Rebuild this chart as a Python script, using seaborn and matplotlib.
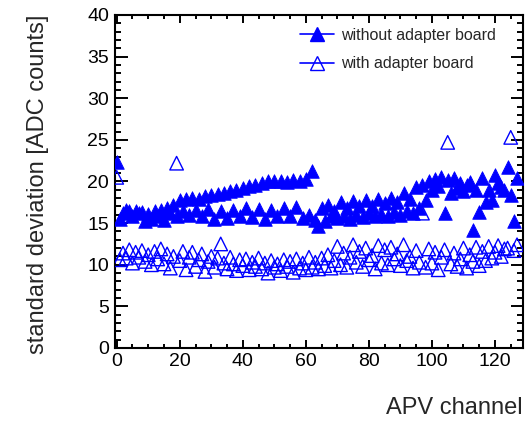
import numpy as np
import pandas as pd
import matplotlib
matplotlib.use("Agg")
import matplotlib.pyplot as plt
from matplotlib.lines import Line2D
from matplotlib.ticker import MultipleLocator
import seaborn as sns

channels = list(range(128))

without_adapter = [
    22.3, 15.5, 16.2, 16.6, 16.4, 15.8, 16.5, 16.2, 16.3, 15.2,
    16.1, 15.5, 16.4, 15.9, 16.6, 15.4, 16.8, 16.2, 17.2, 15.8,
    17.8, 16.5, 17.9, 16.0, 18.0, 16.6, 17.9, 15.9, 18.2, 16.7,
    18.4, 15.5, 18.5, 16.4, 18.6, 15.6, 18.8, 16.6, 19.0, 15.8,
    19.2, 16.8, 19.4, 15.7, 19.6, 16.7, 19.8, 15.5, 20.0, 16.6,
    20.1, 15.9, 20.0, 16.8, 19.9, 15.8, 20.2, 16.9, 20.1, 15.6,
    20.3, 16.0, 21.3, 15.4, 14.6, 16.8, 15.2, 17.2, 15.8, 16.4,
    15.6, 17.5, 15.9, 16.8, 15.5, 17.6, 16.0, 17.0, 15.7, 17.8,
    16.2, 17.1, 15.8, 17.9, 16.1, 17.4, 15.9, 18.0, 16.3, 17.5,
    16.0, 18.6, 16.4, 17.9, 16.2, 19.3, 16.8, 19.6, 17.8, 20.1,
    19.0, 20.3, 19.5, 20.5, 16.2, 20.2, 18.6, 20.4, 19.2, 19.8,
    18.9, 19.6, 19.9, 14.2, 19.0, 16.3, 20.4, 17.5, 19.0, 17.8,
    20.8, 19.8, 19.3, 19.0, 21.8, 18.4, 15.3, 20.4,
]

with_adapter = [
    20.5, 10.6, 11.4, 10.8, 11.8, 10.2, 11.5, 10.9, 11.7, 10.4,
    11.2, 10.0, 11.6, 10.7, 11.9, 10.1, 11.3, 9.6, 11.0, 22.2,
    10.5, 11.6, 9.4, 10.9, 11.5, 9.8, 10.6, 11.3, 9.2, 10.4,
    11.0, 9.7, 10.8, 12.5, 10.2, 9.5, 10.9, 10.1, 9.3, 10.6,
    9.9, 10.7, 9.4, 10.3, 9.8, 10.8, 9.5, 10.2, 9.0, 10.5,
    9.7, 10.1, 9.3, 10.6, 9.8, 10.4, 9.1, 10.7, 9.6, 10.2,
    9.4, 10.9, 9.7, 10.3, 9.5, 10.8, 9.9, 11.2, 9.6, 10.5,
    12.2, 10.0, 11.4, 9.7, 10.9, 12.4, 10.3, 11.6, 9.8, 12.0,
    10.6, 11.1, 9.5, 12.3, 10.2, 11.8, 10.0, 12.1, 10.7, 11.3,
    9.9, 12.4, 10.5, 11.0, 9.6, 11.7, 10.3, 16.2, 9.7, 11.9,
    10.2, 11.5, 9.4, 10.9, 11.8, 24.7, 10.1, 11.4, 9.8, 10.7,
    12.0, 9.6, 11.2, 10.4, 12.1, 9.9, 11.6, 10.5, 12.2, 10.8,
    11.5, 12.3, 11.0, 11.9, 12.0, 25.3, 11.7, 12.4,
]

label_without = "without adapter board"
label_with = "with adapter board"
x_ticks = [0, 20, 40, 60, 80, 100, 120]
y_ticks = [0, 5, 10, 15, 20, 25, 30, 35, 40]

df_without = pd.DataFrame({"channel": channels, "sd": without_adapter})
df_with = pd.DataFrame({"channel": channels, "sd": with_adapter})

sns.set_theme(style="white")
plt.rcParams["font.family"] = ["Liberation Sans", "DejaVu Sans"]

W, H = 531, 421
fig = plt.figure(figsize=(W / 100, H / 100), dpi=100)
ax = fig.add_axes([114.5 / W, 1 - 348 / H, (522.7 - 114.5) / W, (348 - 15) / H])

blue = "#0000ff"
sns.scatterplot(data=df_without, x="channel", y="sd", ax=ax, marker="^",
                color=blue, edgecolor=blue, s=95, linewidth=0.6, legend=False, zorder=3)
sns.scatterplot(data=df_with, x="channel", y="sd", ax=ax, marker="^",
                facecolor="none", edgecolor=blue, s=95, linewidth=1.0, legend=False, zorder=4)

ax.set_xlim(-0.7, 128.8)
ax.set_ylim(0, 40)
ax.set_xticks(x_ticks)
ax.set_yticks(y_ticks)
ax.xaxis.set_minor_locator(MultipleLocator(5))
ax.yaxis.set_minor_locator(MultipleLocator(1))
ax.tick_params(which="both", direction="in", top=True, right=True, bottom=True, left=True,
               width=1.4, color="black", labelsize=14, labelcolor="black")
ax.tick_params(axis="x", which="major", length=6, pad=3.5)
ax.tick_params(axis="x", which="minor", length=3)
ax.tick_params(axis="y", which="major", length=9, pad=4)
ax.tick_params(axis="y", which="minor", length=4.5)
for sp in ax.spines.values():
    sp.set_color("black")
    sp.set_linewidth(1.5)
ax.grid(False)

ax.set_xlabel("APV channel", fontsize=17, loc="right")
ax.xaxis.set_label_coords(1.0, -0.147)
ax.set_ylabel("standard deviation [ADC counts]", fontsize=17, loc="top")
ax.yaxis.set_label_coords(-0.16, 1.0)

handles = [
    Line2D([], [], color=blue, marker="^", markersize=9.5, lw=1.2,
           markerfacecolor=blue, markeredgecolor=blue),
    Line2D([], [], color=blue, marker="^", markersize=9.5, lw=1.2,
           markerfacecolor="none", markeredgecolor=blue, markeredgewidth=1.0),
]
fig.legend(handles, [label_without, label_with], loc="upper left",
           bbox_to_anchor=(300 / W, 1 - 28 / H), frameon=False, fontsize=11.5,
           handlelength=2.1, handletextpad=0.45, labelspacing=0.82,
           borderpad=0, borderaxespad=0)

fig.savefig("out.png", dpi=100)
